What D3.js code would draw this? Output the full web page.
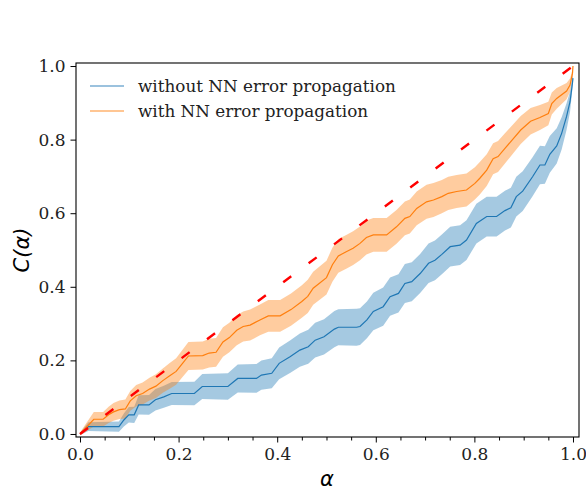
<!DOCTYPE html>
<html>
<head>
<meta charset="utf-8">
<script src="https://cdn.jsdelivr.net/npm/d3@7"></script>
<style>
  html, body { margin: 0; padding: 0; background: #fff; }
  svg { display: block; }
</style>
</head>
<body>
<svg id="chart" width="586" height="492"></svg>
<script>
// ---------- data ----------
const seriesNames = ["without NN error propagation", "with NN error propagation"];

const blueAlpha = [0,0.017,0.079,0.089,0.099,0.11,0.119,0.14,0.153,0.17,0.186,0.232,0.248,0.3,0.32,0.358,0.368,0.389,0.404,0.426,0.446,0.463,0.477,0.495,0.516,0.524,0.561,0.568,0.582,0.595,0.615,0.629,0.646,0.659,0.673,0.69,0.707,0.72,0.734,0.751,0.771,0.784,0.804,0.825,0.845,0.862,0.874,0.885,0.898,0.918,0.933,0.943,0.953,0.967,0.977,0.987,0.994,0.999,1];
const blueC = [0,0.02,0.02,0.038,0.052,0.052,0.079,0.079,0.093,0.101,0.11,0.11,0.129,0.129,0.151,0.151,0.16,0.165,0.192,0.21,0.228,0.237,0.255,0.264,0.285,0.29,0.29,0.292,0.31,0.333,0.346,0.373,0.382,0.409,0.414,0.436,0.464,0.472,0.488,0.509,0.513,0.527,0.572,0.591,0.591,0.607,0.615,0.645,0.66,0.699,0.731,0.731,0.76,0.783,0.817,0.863,0.903,0.955,0.967];
const blueErr = [0.003,0.012,0.014,0.018,0.021,0.022,0.026,0.027,0.029,0.03,0.031,0.032,0.034,0.036,0.038,0.039,0.04,0.041,0.043,0.044,0.045,0.046,0.047,0.048,0.049,0.049,0.05,0.05,0.05,0.051,0.052,0.052,0.052,0.053,0.053,0.053,0.054,0.054,0.054,0.054,0.054,0.054,0.054,0.054,0.054,0.054,0.054,0.054,0.054,0.053,0.052,0.051,0.05,0.048,0.044,0.036,0.028,0.015,0.008];

const orangeAlpha = [0,0.028,0.047,0.058,0.068,0.08,0.092,0.102,0.114,0.127,0.141,0.154,0.168,0.182,0.195,0.208,0.22,0.249,0.262,0.276,0.29,0.303,0.318,0.331,0.345,0.365,0.382,0.406,0.428,0.45,0.462,0.473,0.5,0.512,0.524,0.54,0.554,0.568,0.581,0.595,0.622,0.642,0.659,0.669,0.683,0.703,0.717,0.734,0.747,0.764,0.784,0.801,0.811,0.825,0.838,0.848,0.862,0.876,0.894,0.914,0.933,0.95,0.957,0.967,0.987,0.994,0.999,1];
const orangeC = [0,0.04,0.04,0.052,0.06,0.066,0.068,0.09,0.104,0.11,0.122,0.13,0.145,0.158,0.17,0.192,0.212,0.213,0.22,0.222,0.25,0.262,0.282,0.292,0.296,0.31,0.321,0.321,0.338,0.36,0.374,0.396,0.425,0.46,0.484,0.495,0.505,0.518,0.534,0.541,0.541,0.563,0.586,0.591,0.613,0.631,0.636,0.645,0.654,0.659,0.663,0.681,0.695,0.717,0.748,0.754,0.776,0.798,0.826,0.85,0.86,0.871,0.898,0.912,0.932,0.948,0.98,1.0];
const orangeErr = [0.004,0.02,0.02,0.022,0.024,0.025,0.026,0.027,0.029,0.03,0.031,0.032,0.033,0.035,0.036,0.037,0.038,0.038,0.039,0.039,0.04,0.04,0.041,0.041,0.042,0.042,0.043,0.043,0.044,0.044,0.045,0.045,0.046,0.046,0.046,0.046,0.046,0.046,0.046,0.046,0.046,0.046,0.046,0.046,0.046,0.046,0.046,0.045,0.045,0.045,0.045,0.044,0.044,0.043,0.042,0.042,0.041,0.04,0.038,0.036,0.034,0.032,0.03,0.028,0.022,0.018,0.01,0.002];

const idealLine = [0, 1];
const xTicks = [0.0, 0.2, 0.4, 0.6, 0.8, 1.0];
const xMinorTicks = [0.05,0.1,0.15,0.25,0.3,0.35,0.45,0.5,0.55,0.65,0.7,0.75,0.85,0.9,0.95];
const yTicks = [0.0, 0.2, 0.4, 0.6, 0.8, 1.0];

// ---------- layout ----------
const svg = d3.select("#chart");
const frame = {left: 76, right: 579, top: 63, bottom: 437};
const x = d3.scaleLinear().domain([-0.0081, 1.0122]).range([frame.left, frame.right]);
const y = d3.scaleLinear().domain([-0.0082, 1.0082]).range([frame.bottom, frame.top]);

const blueColor = "#1f77b4", orangeColor = "#ff7f0e";
const serif = "'DejaVu Serif', serif";

svg.append("defs").append("clipPath").attr("id", "clip")
  .append("rect").attr("x", frame.left).attr("y", frame.top)
  .attr("width", frame.right - frame.left).attr("height", frame.bottom - frame.top);

const plot = svg.append("g").attr("clip-path", "url(#clip)");

function drawSeries(alphaArr, cArr, errArr, color) {
  const pts = alphaArr.map((a, i) => ({a, c: cArr[i], e: errArr[i]}));
  const area = d3.area().x(d => x(d.a)).y0(d => y(d.c - d.e)).y1(d => y(d.c + d.e));
  plot.append("path").datum(pts).attr("d", area)
    .attr("fill", color).attr("fill-opacity", 0.4).attr("stroke", "none");
  return pts;
}
const bluePts = drawSeries(blueAlpha, blueC, blueErr, blueColor);
const orangePts = drawSeries(orangeAlpha, orangeC, orangeErr, orangeColor);

const line = d3.line().x(d => x(d.a)).y(d => y(d.c));
plot.append("path").datum(bluePts).attr("d", line)
  .attr("fill", "none").attr("stroke", blueColor).attr("stroke-width", 1.2);
plot.append("path").datum(orangePts).attr("d", line)
  .attr("fill", "none").attr("stroke", orangeColor).attr("stroke-width", 1.2);

// ideal diagonal
svg.append("line")
  .attr("x1", x(idealLine[0])).attr("y1", y(idealLine[0]))
  .attr("x2", x(idealLine[1])).attr("y2", y(idealLine[1]))
  .attr("stroke", "#ff0000").attr("stroke-width", 2.4)
  .attr("stroke-dasharray", "10,21.7");

// ---------- axes ----------
const xAxis = d3.axisBottom(x).tickValues(xTicks).tickFormat(d3.format(".1f")).tickSizeOuter(0).tickSize(5.5).tickPadding(5);
const gx = svg.append("g").attr("transform", `translate(0,${frame.bottom})`).call(xAxis);
const xMinor = d3.axisBottom(x).tickValues(xMinorTicks).tickFormat("").tickSizeOuter(0).tickSize(3.5);
const gxm = svg.append("g").attr("transform", `translate(0,${frame.bottom})`).call(xMinor);

const yAxis = d3.axisLeft(y).tickValues(yTicks).tickFormat(d3.format(".1f")).tickSizeOuter(0).tickSize(5.5).tickPadding(5);
const gy = svg.append("g").attr("transform", `translate(${frame.left},0)`).call(yAxis);

[gx, gy, gxm].forEach(g => {
  g.select(".domain").remove();
  g.selectAll(".tick line").attr("stroke", "#000").attr("stroke-width", 1);
  g.selectAll(".tick text").attr("font-family", serif).attr("font-size", "17px").attr("fill", "#222");
});

// frame
svg.append("rect").attr("x", frame.left).attr("y", frame.top)
  .attr("width", frame.right - frame.left).attr("height", frame.bottom - frame.top)
  .attr("fill", "none").attr("stroke", "#000").attr("stroke-width", 1.1);

// axis labels
svg.append("text").attr("x", 327).attr("y", 486).attr("text-anchor", "middle")
  .attr("font-family", "'DejaVu Sans', sans-serif").attr("font-style", "italic")
  .attr("font-size", "21px").attr("fill", "#000").text("α");
svg.append("text").attr("transform", `translate(29,${(frame.top + frame.bottom) / 2}) rotate(-90)`)
  .attr("text-anchor", "middle")
  .attr("font-family", "'DejaVu Sans', sans-serif").attr("font-style", "italic")
  .attr("font-size", "21px").attr("fill", "#000").text("C(α)");

// legend
const legend = svg.append("g");
const legendColors = [blueColor, orangeColor];
seriesNames.forEach((name, i) => {
  const ly = 86 + i * 25;
  legend.append("line").attr("x1", 90).attr("x2", 124).attr("y1", ly).attr("y2", ly)
    .attr("stroke", legendColors[i]).attr("stroke-opacity", 0.6).attr("stroke-width", 1.5);
  legend.append("text").attr("x", 138).attr("y", ly + 5.5)
    .attr("font-family", serif).attr("font-size", "16.8px").attr("fill", "#222").text(name);
});
</script>
</body>
</html>
